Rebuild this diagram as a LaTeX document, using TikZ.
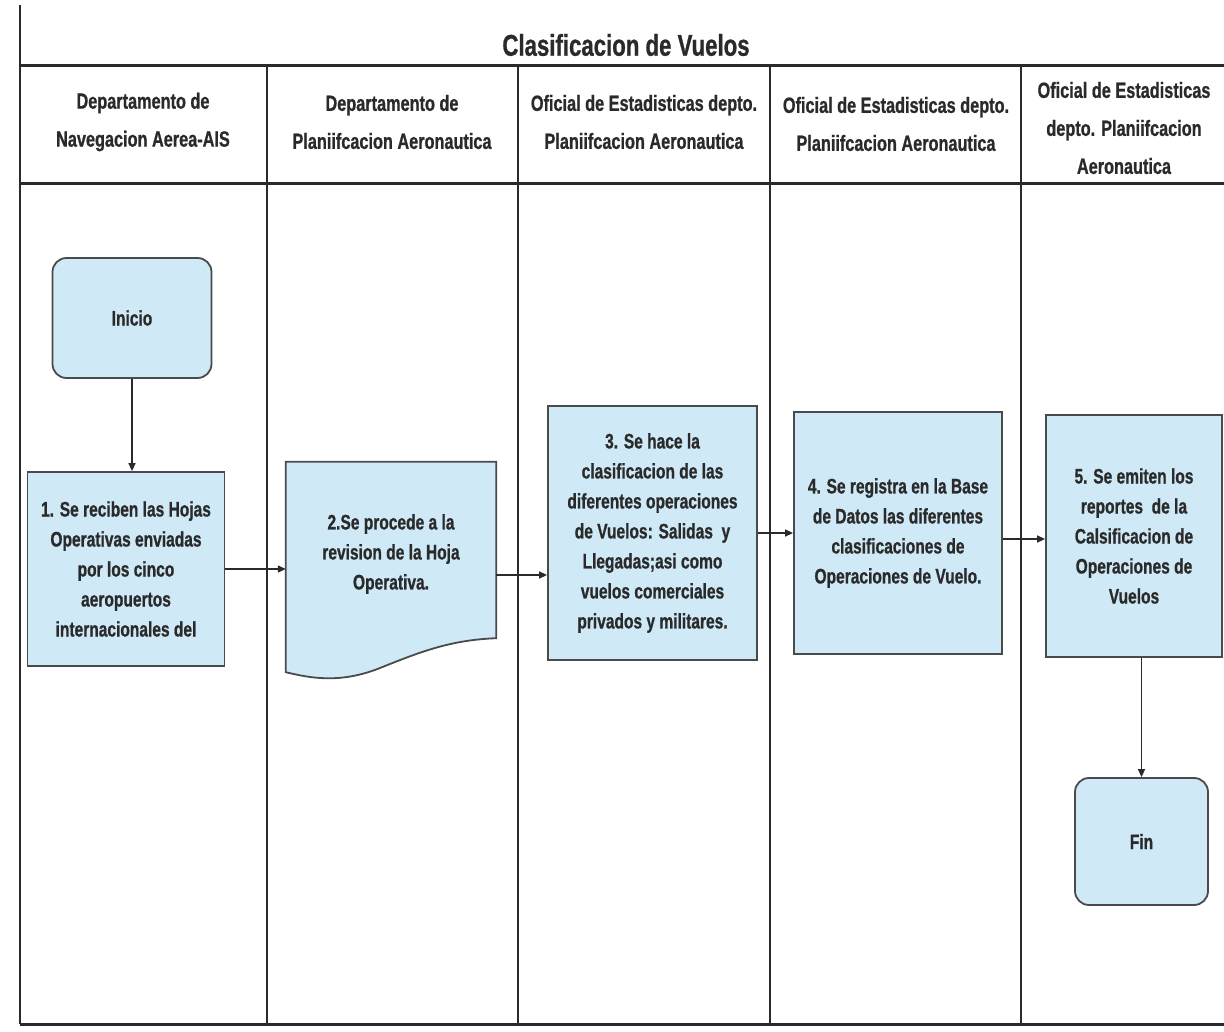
\documentclass[tikz,border=0pt]{standalone}
\usepackage{fontspec}
\setmainfont{Liberation Sans}[FakeStretch=0.74, BoldFeatures={FakeBold=0.8}]
\usetikzlibrary{arrows.meta}
\definecolor{boxfill}{HTML}{CFE9F7}
\definecolor{ink}{HTML}{2A2A2A}
\begin{document}
\begin{tikzpicture}[x=1pt,y=-1pt,
 lane/.style={line width=1.6pt, draw=ink},
 hline/.style={line width=3pt, draw=ink},
 proc/.style={draw=ink!85, line width=1.8pt, fill=boxfill, align=center,
   font=\bfseries\fontsize{21}{30}\selectfont, text=ink, inner sep=0pt},
 term/.style={proc, rounded corners=14pt},
 hdr/.style={align=center, font=\bfseries\fontsize{22}{38}\selectfont, text=ink},
 flow/.style={draw=ink, line width=1.4pt, -{Triangle[length=8pt,width=7pt]}}]
\useasboundingbox[fill=white] (0,0) rectangle (1224,1032);

% swimlane frame
\draw[lane] (20,5) -- (20,1024);
\foreach \xx in {267,518,770,1021} \draw[lane] (\xx,66) -- (\xx,1024);
\draw[hline] (20,66) -- (1224,66);
\draw[hline] (20,184) -- (1224,184);
\draw[hline] (20,1024) -- (1224,1024);

\node[font=\bfseries\fontsize{30}{34}\selectfont, text=ink] (title) at (626,45) {Clasificacion de Vuelos};

\node[hdr] (h1) at (143,122) {Departamento de\\Navegacion Aerea-AIS};
\node[hdr] (h2) at (392,122) {Departamento de\\Planiifcacion Aeronautica};
\node[hdr] (h3) at (644,122) {Oficial de Estadisticas depto.\\Planiifcacion Aeronautica};
\node[hdr] (h4) at (896,124) {Oficial de Estadisticas depto.\\Planiifcacion Aeronautica};
\node[hdr] (h5) at (1124,128) {Oficial de Estadisticas\\depto. Planiifcacion\\Aeronautica};

% nodes
\node[term, minimum width=159pt, minimum height=120pt] (inicio) at (132,318) {Inicio};
\node[proc, minimum width=197pt, minimum height=194pt] (p1) at (126,569)
  {1. Se reciben las Hojas\\Operativas enviadas\\por los cinco\\aeropuertos\\internacionales del};
\node[minimum width=210pt, minimum height=210pt, inner sep=0pt] (p2) at (391,567) {};
\filldraw[draw=ink!85, line width=1.8pt, fill=boxfill]
  (p2.north west) -- (p2.north east) -- ([yshift=34pt]p2.south east)
  .. controls (450,640) and (420,652) .. (380,668)
  .. controls (340,684) and (310,678) .. (p2.south west) -- cycle;
\node[align=center, font=\bfseries\fontsize{21}{30}\selectfont, text=ink] (p2t) at (391,554)
  {2.Se procede a la\\revision de la Hoja\\Operativa.};
\node[proc, minimum width=209pt, minimum height=254pt] (p3) at (652.5,533)
  {3. Se hace la\\clasificacion de las\\diferentes operaciones\\de Vuelos: Salidas\ \ y\\Llegadas;asi como\\vuelos comerciales\\privados y militares.};
\node[proc, minimum width=208pt, minimum height=242pt] (p4) at (898,533)
  {4. Se registra en la Base\\de Datos las diferentes\\clasificaciones de\\Operaciones de Vuelo.};
\node[proc, minimum width=176pt, minimum height=242pt] (p5) at (1134,536)
  {5. Se emiten los\\reportes\ \ de la\\Calsificacion de\\Operaciones de\\Vuelos};
\node[term, minimum width=133pt, minimum height=127pt] (fin) at (1141.5,841.5) {Fin};

% connectors
\draw[flow] (inicio.south) -- (inicio.south |- p1.north);
\draw[flow] (p1.east) -- (p1.east -| p2.west);
\draw[flow] ([yshift=-8pt]p2.east) -- ([yshift=-8pt]p2.east -| p3.west);
\draw[flow] (p3.east) -- (p3.east -| p4.west);
\draw[flow] ([yshift=-6pt]p4.east) -- ([yshift=-6pt]p4.east -| p5.west);
\draw[flow] (fin.north |- p5.south) -- (fin.north);
\end{tikzpicture}
\end{document}
